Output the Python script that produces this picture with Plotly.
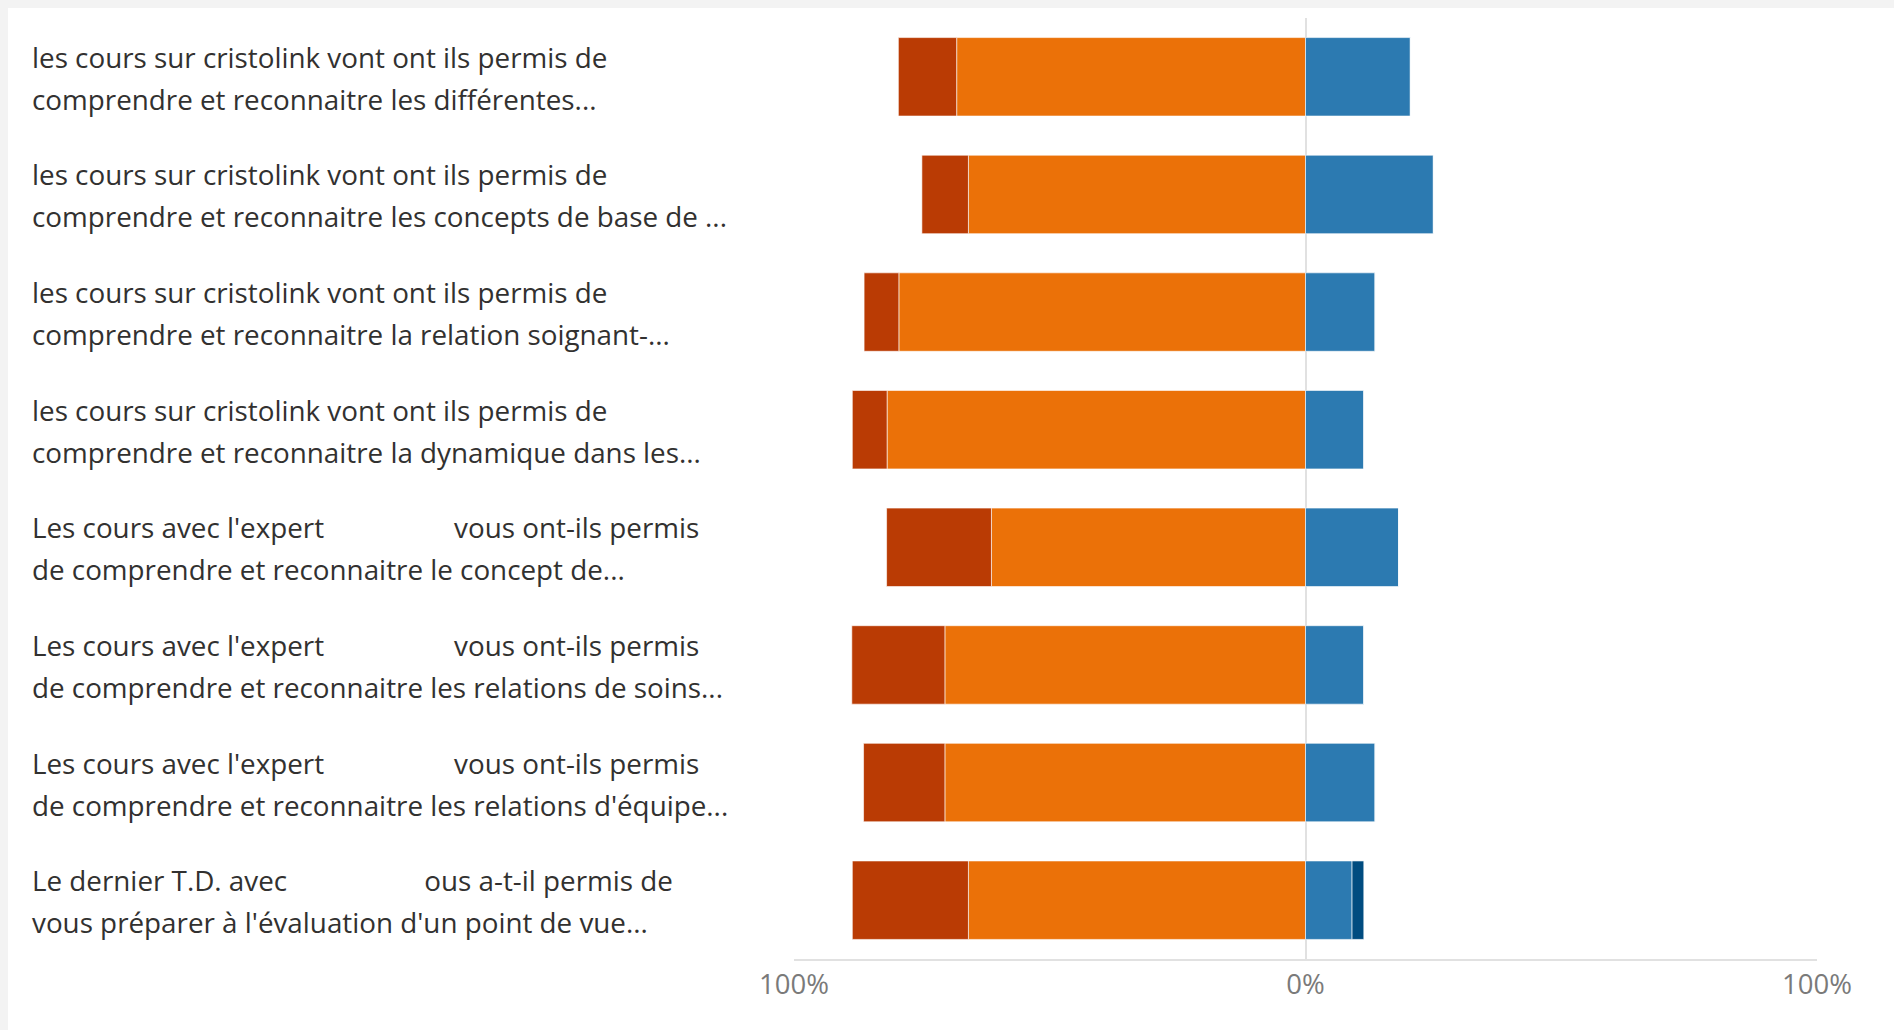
import plotly.graph_objects as go

# questions (two lines each, as shown in the chart)
line1 = [
    "les cours sur cristolink vont ont ils permis de",
    "les cours sur cristolink vont ont ils permis de",
    "les cours sur cristolink vont ont ils permis de",
    "les cours sur cristolink vont ont ils permis de",
    "Les cours avec l'expert" + "\u00a0" * 18 + "vous ont-ils permis",
    "Les cours avec l'expert" + "\u00a0" * 18 + "vous ont-ils permis",
    "Les cours avec l'expert" + "\u00a0" * 18 + "vous ont-ils permis",
    "Le dernier T.D. avec" + "\u00a0" * 19 + "ous a-t-il permis de",
]
line2 = [
    "comprendre et reconnaitre les différentes...",
    "comprendre et reconnaitre les concepts de base de ...",
    "comprendre et reconnaitre la relation soignant-...",
    "comprendre et reconnaitre la dynamique dans les...",
    "de comprendre et reconnaitre le concept de...",
    "de comprendre et reconnaitre les relations de soins...",
    "de comprendre et reconnaitre les relations d'équipe...",
    "vous préparer à l'évaluation d'un point de vue...",
]
questions = ["Q%d" % (i + 1) for i in range(len(line1))]

# percentages
pas_du_tout = [11.4, 9.1, 6.8, 6.8, 20.5, 18.2, 15.9, 22.7]
pas_accord = [68.2, 65.9, 79.5, 81.8, 61.4, 70.5, 70.5, 65.9]
accord = [20.5, 25.0, 13.6, 11.4, 18.2, 11.4, 13.6, 9.1]
tout_a_fait = [0, 0, 0, 0, 0, 0, 0, 2.3]

tick_vals = [-100, 0, 100]
tick_text = ["100%", "0%", "100%"]

fig = go.Figure()
fig.add_trace(go.Bar(y=questions, x=[-v for v in pas_accord], orientation="h",
                     name="Pas d'accord", marker_color="#EB7108"))
fig.add_trace(go.Bar(y=questions, x=[-v for v in pas_du_tout], orientation="h",
                     name="Pas du tout d'accord", marker_color="#BA3B04"))
fig.add_trace(go.Bar(y=questions, x=accord, orientation="h",
                     name="D'accord", marker_color="#2C7AB1"))
fig.add_trace(go.Bar(y=questions, x=tout_a_fait, orientation="h",
                     name="Tout à fait d'accord", marker_color="#004C80"))
fig.update_traces(marker_line_color="rgba(255,255,255,0.6)", marker_line_width=1,
                  hoverinfo="skip")

# page body has an 8px margin top/left, so the figure is 1886x1022
FW, FH = 1886, 1022
L = 786
R = 1809
W = R - L
for q, a, b in zip(questions, line1, line2):
    for txt, sh in ((a, 20), (b, -22)):
        fig.add_annotation(x=(22 - L) / W, xref="paper", y=q, yref="y",
                           text=txt, showarrow=False, xanchor="left",
                           yanchor="middle", align="left", yshift=sh,
                           font=dict(family="Open Sans", size=27.8, color="#323130"))

fig.update_layout(
    barmode="relative",
    bargap=0.333,
    width=FW, height=FH,
    margin=dict(l=L, r=FW - R, t=10, b=71),
    paper_bgcolor="white",
    plot_bgcolor="white",
    showlegend=False,
    font=dict(family="Open Sans"),
)
fig.update_xaxes(range=[-100, 100], tickvals=tick_vals, ticktext=tick_text,
                 showgrid=True, gridcolor="#e1e1e1", gridwidth=2,
                 zeroline=False, showline=True, linecolor="#e1e1e1", linewidth=2,
                 tickfont=dict(family="Open Sans", size=27.5, color="#7a7a7a"),
                 ticks="", fixedrange=True)
fig.update_yaxes(autorange="reversed", showticklabels=False, showgrid=False,
                 zeroline=False, fixedrange=True)

# light grey page frame seen only at the top/left edge
page_js = ("document.body.style.background='#f3f3f3';"
           "document.body.style.margin='8px 0 0 8px';"
           "document.body.style.overflow='hidden';")
fig.write_html("out.html", post_script=page_js)
